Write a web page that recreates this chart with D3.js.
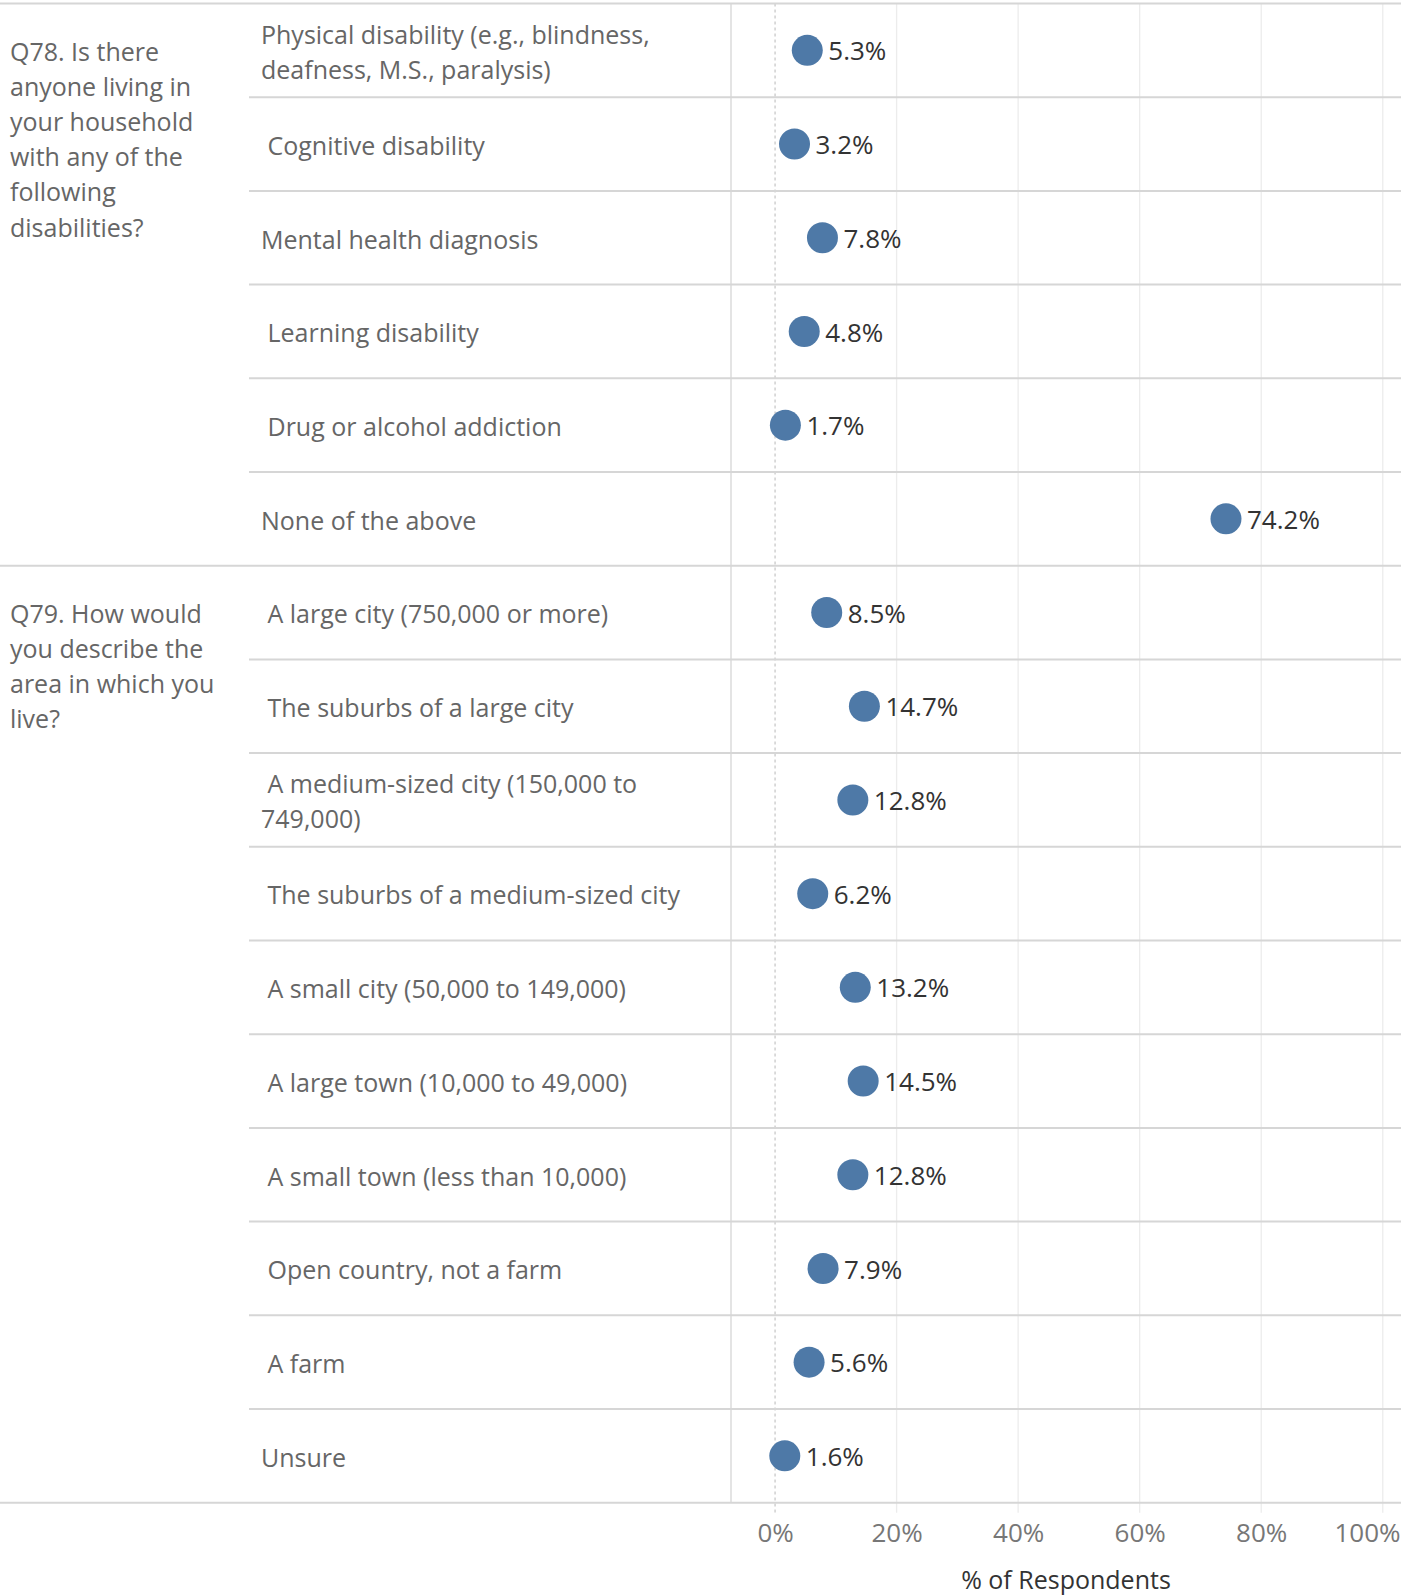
<!DOCTYPE html>
<html>
<head>
<meta charset="utf-8">
<script src="https://cdn.jsdelivr.net/npm/d3@7"></script>
<style>
  html, body { margin: 0; padding: 0; background: #fff; }
  svg { display: block; font-family: "Open Sans", "Noto Sans", sans-serif; }
  text { white-space: pre; }
</style>
</head>
<body>
<svg id="chart" width="1401" height="1596"></svg>
<script>
// questions (left column), answers (rows) and % of respondents
const questionLines = [
  ["Q78. Is there", "anyone living in", "your household", "with any of the", "following", "disabilities?"],
  ["Q79. How would", "you describe the", "area in which you", "live?"]
];
const q78Answers = [
  ["Physical disability (e.g., blindness,", "deafness, M.S., paralysis)"],
  [" Cognitive disability"],
  ["Mental health diagnosis"],
  [" Learning disability"],
  [" Drug or alcohol addiction"],
  ["None of the above"]
];
const q78Values = [5.3, 3.2, 7.8, 4.8, 1.7, 74.2];
const q79Answers = [
  [" A large city (750,000 or more)"],
  [" The suburbs of a large city"],
  [" A medium-sized city (150,000 to", "749,000)"],
  [" The suburbs of a medium-sized city"],
  [" A small city (50,000 to 149,000)"],
  [" A large town (10,000 to 49,000)"],
  [" A small town (less than 10,000)"],
  [" Open country, not a farm"],
  [" A farm"],
  ["Unsure"]
];
const q79Values = [8.5, 14.7, 12.8, 6.2, 13.2, 14.5, 12.8, 7.9, 5.6, 1.6];
const xTicks = [0, 20, 40, 60, 80, 100];

const WIDTH = 1401;
const TOP = 3.5;
const ROW_H = 93.7;
const LABEL_X = 249;   // start of answer column
const PLOT_X = 731;    // start of plot column
const BLUE = "#4e79a7";
const FONT = "25px";
const NUM_FONT = "26px";

const rows = [];
[[q78Answers, q78Values], [q79Answers, q79Values]].forEach(([answers, values], qi) => {
  answers.forEach((a, i) => rows.push({ q: qi, first: i === 0, label: a, value: values[i], key: qi + "-" + i }));
});

const y = d3.scaleBand()
  .domain(rows.map(d => d.key))
  .range([TOP, TOP + ROW_H * rows.length]);
const x = d3.scaleLinear().domain([-7.25, 103]).range([PLOT_X, WIDTH]);
const bottom = y.range()[1];
const mid = d => y(d.key) + y.bandwidth() / 2;

const svg = d3.select("#chart");

// gridlines
svg.append("g").selectAll("line")
  .data(xTicks.filter(t => t > 0))
  .join("line")
  .attr("x1", d => x(d)).attr("x2", d => x(d))
  .attr("y1", TOP).attr("y2", bottom + 10)
  .attr("stroke", "#ececec").attr("stroke-width", 1.3);

// zero line
svg.append("line")
  .attr("x1", x(0)).attr("x2", x(0))
  .attr("y1", TOP).attr("y2", bottom + 12)
  .attr("stroke", "#c4c4c4").attr("stroke-width", 1.2)
  .attr("stroke-dasharray", "3,3");

// row separators
svg.append("g").selectAll("line")
  .data(rows)
  .join("line")
  .attr("x1", d => d.first ? 0 : LABEL_X)
  .attr("x2", WIDTH)
  .attr("y1", d => y(d.key)).attr("y2", d => y(d.key))
  .attr("stroke", "#d6d6d6").attr("stroke-width", 2);
svg.append("line")
  .attr("x1", 0).attr("x2", WIDTH)
  .attr("y1", bottom).attr("y2", bottom)
  .attr("stroke", "#d6d6d6").attr("stroke-width", 2);

// column divider
svg.append("line")
  .attr("x1", PLOT_X).attr("x2", PLOT_X)
  .attr("y1", TOP).attr("y2", bottom)
  .attr("stroke", "#d6d6d6").attr("stroke-width", 1.3);

// question labels
svg.append("g").selectAll("text")
  .data(rows.filter(d => d.first))
  .join("text")
  .attr("x", 10)
  .attr("y", d => mid(d) + 1.5)
  .attr("fill", "#666")
  .style("font-size", FONT)
  .each(function(d) {
    d3.select(this).selectAll("tspan")
      .data(questionLines[d.q])
      .join("tspan")
      .attr("x", 10)
      .attr("dy", (t, i) => i === 0 ? "0.35em" : 35.2)
      .text(t => t);
  });

// answer labels
svg.append("g").selectAll("text")
  .data(rows)
  .join("text")
  .attr("fill", "#666")
  .style("font-size", FONT)
  .attr("y", d => mid(d) + 2 - (d.label.length - 1) * 17.6)
  .each(function(d) {
    d3.select(this).selectAll("tspan")
      .data(d.label)
      .join("tspan")
      .attr("x", LABEL_X + 12)
      .attr("dy", (t, i) => i === 0 ? "0.35em" : 35.2)
      .text(t => t);
  });

// dots
svg.append("g").selectAll("circle")
  .data(rows)
  .join("circle")
  .attr("cx", d => x(d.value))
  .attr("cy", mid)
  .attr("r", 15.5)
  .attr("fill", BLUE);

// value labels
svg.append("g").selectAll("text")
  .data(rows)
  .join("text")
  .attr("x", d => x(d.value) + 21)
  .attr("y", d => mid(d) + 1)
  .attr("dy", "0.35em")
  .attr("fill", "#333")
  .style("font-size", NUM_FONT)
  .text(d => d.value.toFixed(1) + "%");

// x axis
const axis = svg.append("g")
  .attr("transform", `translate(0,${bottom})`)
  .call(d3.axisBottom(x).tickValues(xTicks).tickFormat(d => d + "%").tickSize(0).tickPadding(21));
axis.select(".domain").remove();
axis.selectAll("text")
  .attr("fill", "#777")
  .style("font-family", "'Open Sans', sans-serif")
  .style("font-size", NUM_FONT)
  .attr("text-anchor", d => d === 100 ? "end" : "middle")
  .attr("x", d => d === 100 ? WIDTH - x(d) - 1 : 0);

svg.append("text")
  .attr("x", (PLOT_X + WIDTH) / 2)
  .attr("y", 1580)
  .attr("dy", "0.35em")
  .attr("text-anchor", "middle")
  .attr("fill", "#333")
  .style("font-size", FONT)
  .style("font-weight", 500)
  .text("% of Respondents");
</script>
</body>
</html>
